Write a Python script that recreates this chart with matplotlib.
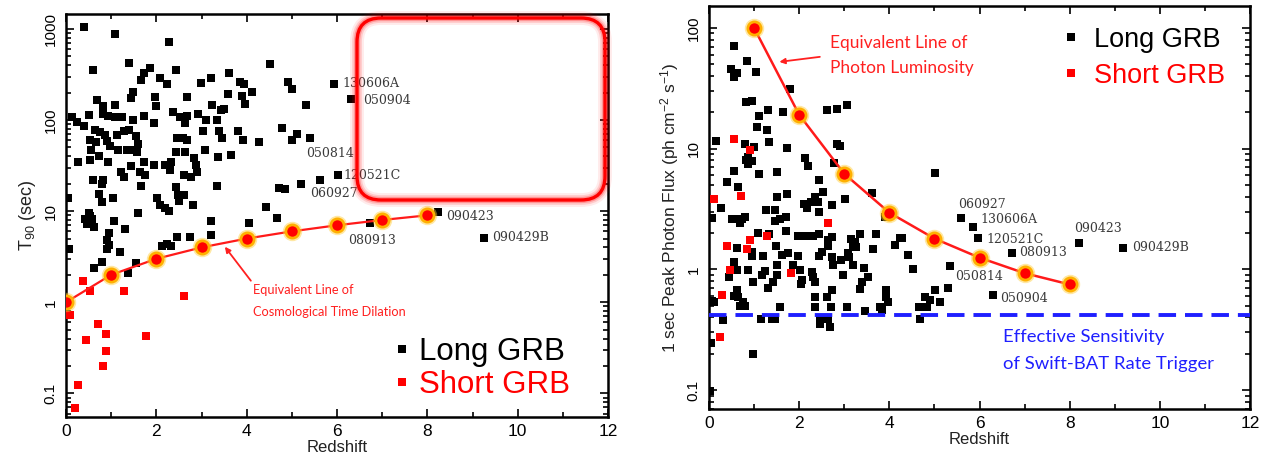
import matplotlib
matplotlib.use('Agg')
import matplotlib.pyplot as plt
from matplotlib.patches import FancyBboxPatch
from matplotlib.transforms import IdentityTransform
from matplotlib.lines import Line2D
from matplotlib.ticker import MultipleLocator, LogLocator, FixedLocator, NullFormatter

plt.rcParams['font.family'] = ['Liberation Sans', 'DejaVu Sans']
plt.rcParams['mathtext.fontset'] = 'custom'
plt.rcParams['mathtext.rm'] = 'Liberation Sans'
plt.rcParams['mathtext.it'] = 'Liberation Sans:italic'

# ---------------- DATA ----------------
# Left panel: T90 vs redshift, long GRBs (z, T90 s)
long_t90 = [
    (0.39, 1060), (1.09, 870), (2.29, 725), (0.59, 355), (1.40, 427), (1.86, 376), (1.72, 325),
    (1.67, 274), (2.09, 288), (2.23, 250), (2.43, 355), (2.98, 258), (3.21, 292), (3.60, 325),
    (1.48, 204), (1.43, 173), (1.97, 180), (2.00, 144), (2.69, 178), (3.58, 191), (0.68, 166),
    (0.83, 144), (1.09, 146), (3.24, 148), (3.50, 132), (0.13, 109), (0.24, 96), (0.40, 85),
    (0.52, 113), (0.82, 117), (0.94, 112), (1.09, 108), (1.24, 107), (1.48, 100), (1.72, 112),
    (1.94, 92), (2.38, 123), (2.52, 109), (2.69, 110), (2.63, 94), (2.93, 117), (3.10, 100),
    (3.34, 100), (3.44, 129), (0.65, 78), (0.76, 74), (0.87, 68), (1.13, 68), (1.28, 76),
    (1.39, 78), (1.54, 67), (0.53, 60), (0.67, 58), (0.91, 59), (0.98, 52), (1.16, 47),
    (1.35, 47), (1.46, 47), (1.60, 54), (1.57, 45), (2.45, 64), (2.58, 63), (2.69, 60),
    (3.04, 76), (3.39, 76), (3.45, 63), (2.43, 45), (2.63, 45), (2.84, 38), (3.08, 47),
    (3.36, 39), (0.55, 47), (0.27, 35), (0.53, 36), (0.74, 40), (0.94, 35), (1.22, 27),
    (1.28, 24), (1.44, 31), (1.63, 27), (1.76, 25), (1.72, 35), (1.94, 32.5), (2.19, 32),
    (2.32, 35), (2.30, 28), (2.61, 25), (2.76, 23.5), (2.87, 32.5), (2.91, 27), (3.34, 19),
    (0.59, 22), (0.82, 22), (0.80, 20), (1.65, 19), (2.43, 18.5), (0.74, 15.6), (0.80, 12.6),
    (1.05, 14), (0.05, 13.8), (1.60, 9.6), (2.02, 13.8), (2.09, 11.6), (2.19, 10.9), (2.28, 10),
    (2.47, 15), (2.61, 15), (2.50, 13), (2.82, 11.8), (3.21, 7.8), (1.07, 7.8), (3.65, 41),
    (4.51, 410), (3.85, 264), (3.93, 250), (4.12, 204), (3.90, 185), (3.97, 151), (4.92, 264),
    (5.01, 219), (5.32, 148), (5.93, 250), (6.31, 169), (3.80, 76), (3.91, 61), (4.28, 57),
    (4.79, 81), (5.12, 70), (5.01, 60), (5.40, 63), (4.71, 18), (4.84, 17.4), (5.21, 19.8),
    (5.62, 22), (6.03, 24.9), (4.42, 11), (4.67, 8.5), (4.06, 7.5), (6.73, 7.5), (8.24, 9.8),
    (9.26, 5.1), (0.50, 9.6), (0.53, 8.8), (0.42, 8.1), (0.57, 8.1), (0.46, 7.2), (0.61, 6.7),
    (1.31, 6.3), (0.96, 5.8), (0.91, 4.8), (0.96, 4.3), (0.91, 3.8), (1.19, 3.6), (0.07, 3.85),
    (0.80, 2.8), (0.63, 2.4), (1.37, 2.1), (1.54, 2.7), (2.13, 4.1), (2.23, 4.4), (2.32, 4.1),
    (2.45, 5.2), (2.75, 5.2), (3.21, 5.5),
]
# Left panel: short GRBs (z, T90 s)
short_t90 = [
    (0.37, 1.73), (0.53, 1.34), (1.28, 1.34), (2.61, 1.16), (0.09, 0.73), (0.71, 0.58),
    (0.89, 0.45), (0.45, 0.39), (1.78, 0.43), (0.89, 0.29), (0.81, 0.20), (0.27, 0.125),
    (0.20, 0.069),
]
# Equivalent line of cosmological time dilation
dil_z = [0, 1, 2, 3, 4, 5, 6, 7, 8]
dil_t90 = [1, 2, 3, 4, 5, 6, 7, 8, 9]

# Right panel: 1-s peak photon flux vs redshift, long GRBs (z, flux)
long_flux = [
    (0.56, 71), (0.84, 53), (0.49, 46), (0.61, 42), (0.56, 39), (1.04, 43), (1.80, 31),
    (0.82, 24.3), (0.95, 24.8), (1.31, 21), (1.65, 20), (1.12, 18.5), (2.62, 21), (2.83, 21.4),
    (3.05, 23), (1.07, 15.1), (1.28, 14.4), (0.16, 11.5), (1.34, 11.4), (0.80, 10.9),
    (1.00, 10.3), (1.74, 10.1), (2.83, 11), (2.90, 10.6), (0.87, 8.6), (0.82, 8.1), (0.95, 7.85),
    (0.87, 7.4), (2.13, 8.4), (2.20, 7.2), (2.78, 7.6), (0.56, 6.5), (1.12, 6.2), (1.50, 6.4),
    (2.45, 5.5), (0.41, 5.3), (0.65, 4.8), (1.51, 4.0), (1.72, 4.2), (2.52, 4.4), (2.35, 4.0),
    (2.42, 3.6), (2.11, 3.5), (2.26, 3.6), (2.17, 3.2), (2.72, 3.4), (3.02, 3.8), (3.61, 4.3),
    (0.27, 3.2), (1.26, 3.1), (1.46, 3.1), (2.45, 3.0), (0.07, 2.66), (0.50, 2.6), (0.63, 2.6),
    (0.74, 2.6), (0.69, 2.44), (0.80, 2.7), (1.46, 2.5), (1.57, 2.6), (1.71, 2.7), (1.97, 1.9),
    (2.13, 1.9), (1.09, 2.0), (1.34, 1.98), (1.71, 2.07), (2.45, 1.98), (2.65, 1.74),
    (2.72, 1.85), (3.35, 1.98), (3.16, 1.8), (3.24, 1.68), (3.70, 1.98), (2.31, 1.9),
    (4.23, 1.83), (0.63, 1.5), (0.95, 1.39), (0.95, 1.28), (1.19, 1.28), (1.48, 1.55),
    (1.63, 1.32), (1.76, 1.36), (1.98, 1.28), (2.50, 1.39), (2.44, 1.28), (2.65, 1.55),
    (2.72, 1.26), (2.76, 1.09), (2.93, 1.19), (3.09, 1.36), (3.10, 1.26), (3.20, 1.58),
    (3.27, 1.53), (3.64, 1.47), (4.12, 1.58), (0.55, 1.15), (0.63, 0.98), (0.44, 0.86),
    (0.86, 0.98), (0.98, 0.79), (1.17, 0.89), (1.24, 0.97), (1.50, 1.08), (1.51, 0.89),
    (1.43, 0.79), (1.30, 0.70), (1.87, 1.09), (2.02, 0.98), (2.06, 0.81), (2.04, 0.76),
    (2.29, 0.95), (2.31, 0.86), (2.35, 0.79), (2.72, 0.68), (2.98, 0.90), (3.20, 1.08),
    (3.44, 1.03), (3.53, 0.86), (3.39, 0.79), (3.35, 0.69), (3.92, 0.68), (3.92, 0.59),
    (3.98, 0.54), (0.61, 0.68), (0.56, 0.60), (0.64, 0.59), (0.76, 0.54), (0.80, 0.50),
    (0.69, 0.50), (0.07, 0.55), (0.10, 0.54), (1.57, 0.49), (2.35, 0.59), (2.35, 0.49),
    (2.61, 0.59), (2.70, 0.49), (3.05, 0.49), (3.46, 0.45), (3.83, 0.46), (3.79, 0.49),
    (0.32, 0.38), (1.15, 0.39), (1.39, 0.39), (1.46, 0.39), (2.46, 0.39), (2.46, 0.355),
    (2.65, 0.39), (2.68, 0.333), (0.04, 0.245), (0.98, 0.198), (0.02, 0.098), (5.01, 6.3),
    (3.90, 2.7), (4.29, 1.82), (4.42, 1.32), (4.52, 1.0), (5.60, 2.68), (5.86, 2.24),
    (5.97, 1.82), (6.71, 1.36), (5.34, 1.06), (5.31, 0.70), (5.01, 0.68), (5.12, 0.54),
    (4.90, 0.56), (4.79, 0.59), (4.83, 0.49), (4.66, 0.49), (4.68, 0.39), (6.30, 0.61),
    (8.21, 1.66), (9.19, 1.51),
]
# Right panel: short GRBs (z, flux)
short_flux = [
    (0.56, 12.1), (0.91, 9.7), (0.72, 4.05), (0.12, 3.8), (2.63, 2.4), (1.29, 1.88),
    (0.91, 1.76), (0.39, 1.56), (0.84, 1.48), (0.47, 0.98), (1.81, 0.93), (0.29, 0.61),
    (0.24, 0.275),
]
# Equivalent line of photon luminosity
lum_z = [1, 2, 3, 4, 5, 6, 7, 8]
lum_flux = [100, 19.1, 6.2, 2.95, 1.80, 1.25, 0.93, 0.75]
# Swift-BAT effective sensitivity
bat_limit = 0.42

# GRB name labels: (name, text z, text value)
labels_t90 = [
    ('130606A', 6.11, 255), ('050904', 6.58, 166), ('050814', 5.31, 43.4),
    ('120521C', 6.15, 24.9), ('060927', 5.40, 15.8), ('090423', 8.41, 8.8),
    ('080913', 6.24, 4.8), ('090429B', 9.43, 5.2),
]
labels_flux = [
    ('060927', 5.53, 3.46), ('130606A', 6.01, 2.6), ('120521C', 6.16, 1.78),
    ('080913', 6.88, 1.37), ('050814', 5.45, 0.875), ('050904', 6.45, 0.578),
    ('090423', 8.10, 2.17), ('090429B', 9.39, 1.51),
]

# ---------------- FIGURE ----------------
W, H = 1274, 461
fig = plt.figure(figsize=(W / 100, H / 100), dpi=100)
ax1 = fig.add_axes([66 / W, 44 / H, 542 / W, 403 / H])
ax2 = fig.add_axes([709 / W, 52 / H, 541 / W, 403 / H])

sq = dict(marker='s', ls='none', ms=5.2, mew=0)


def style_axes(ax, ylim, yt, ytl):
    ax.set_xlim(0, 12)
    ax.set_yscale('log')
    ax.set_ylim(*ylim)
    ax.xaxis.set_major_locator(MultipleLocator(2))
    ax.xaxis.set_minor_locator(MultipleLocator(1))
    ax.yaxis.set_major_locator(FixedLocator(yt))
    ax.yaxis.set_minor_locator(LogLocator(base=10, subs=range(2, 10)))
    ax.yaxis.set_minor_formatter(NullFormatter())
    ax.set_yticklabels(ytl, rotation=90, va='center', fontsize=11)
    ax.tick_params(which='both', direction='in', top=True, right=True, width=1.2)
    ax.tick_params(which='major', length=6)
    ax.tick_params(which='minor', length=3.5)
    ax.tick_params(axis='x', labelsize=12.5, pad=5)
    ax.tick_params(axis='y', pad=6)
    for s in ax.spines.values():
        s.set_linewidth(1.8)
    ax.set_xlabel('Redshift', fontsize=12, labelpad=1, color='#222222')


# ----- Left panel -----
ax1.plot([p[0] for p in long_t90], [p[1] for p in long_t90], color='black', **sq, zorder=3)
ax1.plot([p[0] for p in short_t90], [p[1] for p in short_t90], color='#ff0000', **sq, zorder=3)
ax1.plot(dil_z, dil_t90, color='#ff1a1a', lw=1.6, zorder=4)
ax1.plot(dil_z, dil_t90, ls='none', marker='o', ms=14, mfc='#ffcc33', mec='none', alpha=0.45, zorder=5)
ax1.plot(dil_z, dil_t90, ls='none', marker='o', ms=9.5, mfc='#ff0000', mec='#ffb000', mew=2, zorder=6)
style_axes(ax1, (0.055, 1460), [0.1, 1, 10, 100, 1000], ['0.1', '1', '10', '100', '1000'])
ax1.set_ylabel('T$_{90}$ (sec)', fontsize=13, labelpad=4, color='#222222')

for name, zx, val in labels_t90:
    ax1.text(zx, val, name, fontsize=9, family='DejaVu Serif', color='#3a3a3a', va='center', ha='left', zorder=7)

ax1.annotate('', xy=(3.48, 4.3), xytext=(4.13, 1.63),
             arrowprops=dict(arrowstyle='-|>', color='#ff2020', lw=1.3, mutation_scale=8), zorder=7)
ax1.text(4.14, 1.36, 'Equivalent Line of', fontsize=9.2, family='Lato', color='#ff2020', va='center', ha='left')
ax1.text(4.14, 0.78, 'Cosmological Time Dilation', fontsize=9.2, family='Lato', color='#ff2020', va='center', ha='left')

h_long = Line2D([], [], color='black', **sq)
h_short = Line2D([], [], color='#ff0000', **sq)
ax1.legend([h_long, h_short], ['Long GRB', 'Short GRB'], loc='upper left', bbox_to_anchor=(0.603, 0.1985),
           frameon=False, fontsize=22.5, handlelength=0.6, handletextpad=0.25, borderaxespad=0,
           borderpad=0, labelspacing=0.08, labelcolor=['black', '#ff0000'])

# Highlight box (rounded, glowing) in pixel coordinates
for lw, a in [(10, 0.08), (7, 0.14), (4.5, 0.25), (2.4, 1.0)]:
    box = FancyBboxPatch((357, H - 200), 248, 182, boxstyle='round,pad=0,rounding_size=24',
                         transform=IdentityTransform(), fill=False, ec='#ff0000', lw=lw, alpha=a)
    fig.add_artist(box)

# ----- Right panel -----
ax2.plot([p[0] for p in long_flux], [p[1] for p in long_flux], color='black', **sq, zorder=3)
ax2.plot([p[0] for p in short_flux], [p[1] for p in short_flux], color='#ff0000', **sq, zorder=3)
ax2.axhline(bat_limit, color='#1f1fff', lw=2.8, dashes=(4.5, 2.3), zorder=4)
ax2.plot(lum_z, lum_flux, color='#ff1a1a', lw=1.8, zorder=4)
ax2.plot(lum_z, lum_flux, ls='none', marker='o', ms=14, mfc='#ffcc33', mec='none', alpha=0.45, zorder=5)
ax2.plot(lum_z, lum_flux, ls='none', marker='o', ms=9.5, mfc='#ff0000', mec='#ffb000', mew=2, zorder=6)
style_axes(ax2, (0.0697, 152), [0.1, 1, 10, 100], ['0.1', '1', '10', '100'])
ax2.set_ylabel('1 sec Peak Photon Flux (ph cm$^{-2}$ s$^{-1}$)', fontsize=12.5, labelpad=4, color='#222222')

for name, zx, val in labels_flux:
    ax2.text(zx, val, name, fontsize=9, family='DejaVu Serif', color='#3a3a3a', va='center', ha='left', zorder=7)

ax2.annotate('', xy=(1.50, 52), xytext=(2.52, 58),
             arrowprops=dict(arrowstyle='-|>', color='#ff2020', lw=1.3, mutation_scale=8), zorder=7)
ax2.text(2.68, 74.5, 'Equivalent Line of', fontsize=12.5, family='Lato', color='#ff2020', va='center', ha='left')
ax2.text(2.68, 46.3, 'Photon Luminosity', fontsize=12.5, family='Lato', color='#ff2020', va='center', ha='left')
ax2.text(6.52, 0.273, 'Effective Sensitivity', fontsize=13.3, family='Lato', color='#1f1fff', va='center', ha='left')
ax2.text(6.52, 0.166, 'of Swift-BAT Rate Trigger', fontsize=13.3, family='Lato', color='#1f1fff', va='center', ha='left')

ax2.legend([h_long, h_short], ['Long GRB', 'Short GRB'], loc='upper left', bbox_to_anchor=(0.654, 0.948),
           frameon=False, fontsize=19.5, handlelength=0.6, handletextpad=0.55, borderaxespad=0,
           borderpad=0, labelspacing=0.36, labelcolor=['black', '#ff0000'])

fig.savefig('out.png', dpi=100)
